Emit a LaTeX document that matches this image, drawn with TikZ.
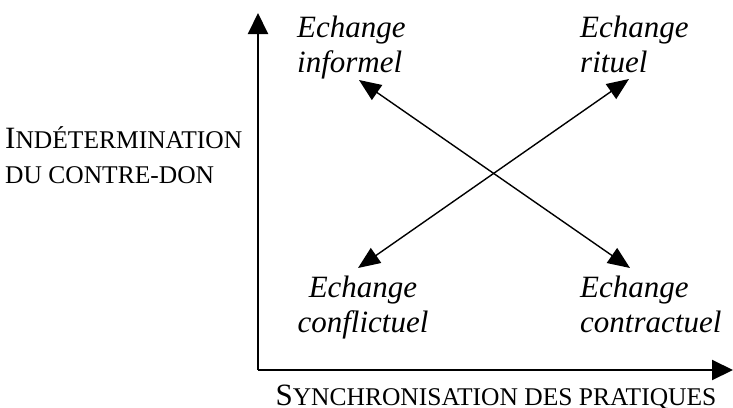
\documentclass[tikz,border=0pt]{standalone}
\usepackage{fontspec}
\setmainfont{Liberation Serif}
\usetikzlibrary{arrows.meta}

% faked small capitals: a full-size capital and reduced ones
\newcommand{\capbig}[1]{{\fontsize{31}{35}\selectfont #1}}
\newcommand{\capsmall}[1]{{\fontsize{25.5}{35}\selectfont #1}}

\begin{document}
\begin{tikzpicture}[x=1pt,y=-1pt,
    axis/.style={line width=2pt,-{Triangle[length=21pt,width=20pt]}},
    link/.style={line width=1.4pt,{Triangle[length=22pt,width=18pt]}-{Triangle[length=22pt,width=18pt]}},
    pole/.style={font=\fontsize{31}{35}\selectfont\itshape,inner sep=0pt},
    axislabel/.style={font=\fontsize{31}{35}\selectfont,inner sep=0pt,align=left}]
  \useasboundingbox (0,0) rectangle (733,407);

  % axes
  \coordinate (o) at (258,370);
  \coordinate (ytop) at (258,13);
  \coordinate (xend) at (733,370);
  \draw[axis] (o) -- (ytop);
  \draw[axis] (o) -- (xend);

  % the four kinds of exchange (base = last line)
  \node[pole,anchor=base west,align=left] (inf) at (297,72) {Echange\\informel};
  \node[pole,anchor=base west,align=left] (rit) at (580,72) {Echange\\rituel};
  \node[pole,anchor=base,align=center] (conf) at (363,332) {Echange\\conflictuel};
  \node[pole,anchor=base west,align=left] (contr) at (580,332) {Echange\\contractuel};

  % arrow ends
  \coordinate (a1) at (359,80);
  \coordinate (a2) at (630,268);
  \coordinate (b1) at (629,79);
  \coordinate (b2) at (358,268);
  \draw[link] (a1) -- (a2);
  \draw[link] (b1) -- (b2);

  % axis labels
  \node[axislabel,anchor=base west] (ylab) at (5,183)
    {\capbig{I}\capsmall{NDÉTERMINATION}\\\capsmall{DU CONTRE-DON}};
  \node[axislabel,anchor=base] (xlab) at (496,405)
    {\capbig{S}\capsmall{YNCHRONISATION DES PRATIQUES}};
\end{tikzpicture}
\end{document}
